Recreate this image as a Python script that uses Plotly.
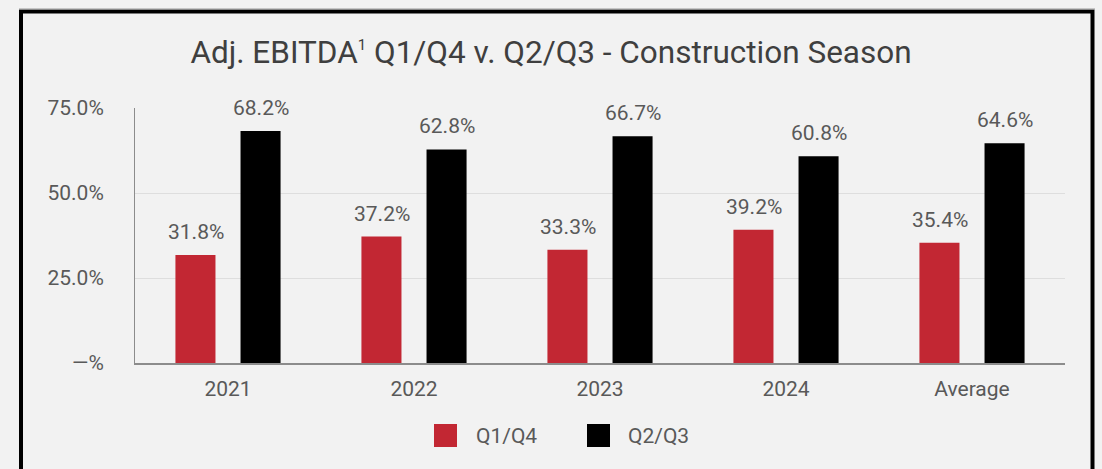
import plotly.graph_objects as go

categories = ["2021", "2022", "2023", "2024", "Average"]
q1q4 = [31.8, 37.2, 33.3, 39.2, 35.4]
q2q3 = [68.2, 62.8, 66.7, 60.8, 64.6]
series_names = ["Q1/Q4", "Q2/Q3"]
tick_vals = [0, 25, 50, 75]
tick_text = ["—%", "25.0%", "50.0%", "75.0%"]

RED = "#c22733"
BLACK = "#000000"
TXT = "#595959"
FONT = "Roboto"
FS = 21

# pixel helpers for layout-only placement (plot area 135..1065 x, 108..363 y)
def px_x(p):
    return (p - 135) / 930

def px_y(p):
    return (363 - p) / 255

fig = go.Figure()
series = [(series_names[0], q1q4, RED, -32.5), (series_names[1], q2q3, BLACK, 32.5)]
for name, vals, col, shift in series:
    fig.add_trace(go.Bar(
        x=categories, y=vals, name=name, marker=dict(color=col, line=dict(width=0)),
        showlegend=False, hoverinfo="x+y",
    ))
    for i, v in enumerate(vals):
        fig.add_annotation(x=i, y=v, text=f"{v:.1f}%", showarrow=False,
                           xanchor="center", yanchor="bottom", xshift=shift, yshift=9,
                           font=dict(family=FONT, size=FS, color=TXT))

fig.update_layout(
    width=1102, height=469,
    margin=dict(l=135, r=37, t=108, b=106),
    paper_bgcolor="#f2f2f2", plot_bgcolor="#f2f2f2",
    font=dict(family=FONT, size=FS, color=TXT),
    barmode="group", bargap=0.30, bargroupgap=0.385,
    title=dict(text="Adj. EBITDA<sup><span style='font-size:15px'>1</span></sup> Q1/Q4 v. Q2/Q3 - Construction Season",
               x=0.5, xanchor="center", y=1 - 52 / 469, yanchor="middle", yref="container",
               font=dict(family=FONT, size=31.5, color="#3f3f3f")),
    showlegend=False,
)
fig.update_yaxes(range=[0, 75], tickvals=tick_vals, ticktext=tick_text,
                 showgrid=True, gridcolor="#dedede", gridwidth=1,
                 showline=True, linecolor="#8c8c8c", linewidth=1,
                 zeroline=False, ticks="", ticklabelstandoff=26,
                 tickfont=dict(family=FONT, size=FS, color=TXT))
fig.update_xaxes(type="category", categoryorder="array", categoryarray=categories,
                 range=[-0.5, len(categories) - 0.5],
                 showline=True, linecolor="#8c8c8c", linewidth=2, ticks="",
                 ticklabelstandoff=6,
                 tickfont=dict(family=FONT, size=FS, color=TXT))

# custom legend with large square swatches
legend_pos = [(434, 474), (587, 626)]
for (name, _, col, _), (sx, tx) in zip(series, legend_pos):
    fig.add_shape(type="rect", xref="paper", yref="paper",
                  x0=px_x(sx), x1=px_x(sx + 23), y0=px_y(447), y1=px_y(424),
                  line=dict(width=0), fillcolor=col)
    fig.add_annotation(xref="paper", yref="paper", x=px_x(tx), y=px_y(436),
                       text=name, showarrow=False, xanchor="left", yanchor="middle",
                       font=dict(family=FONT, size=FS, color=TXT))

# outer frame
fig.add_shape(type="rect", xref="paper", yref="paper",
              x0=px_x(21), x1=px_x(1092.5), y0=px_y(472), y1=px_y(11.5),
              line=dict(color="black", width=4), fillcolor="rgba(0,0,0,0)", layer="below")
fig.add_shape(type="line", xref="paper", yref="paper",
              x0=px_x(19), x1=px_x(1095), y0=px_y(9), y1=px_y(9),
              line=dict(color="#9a9a9a", width=1), layer="below")

fig.write_html("out.html", config={"displayModeBar": False},
               post_script="document.body.style.margin='0';document.body.style.padding='0';")
